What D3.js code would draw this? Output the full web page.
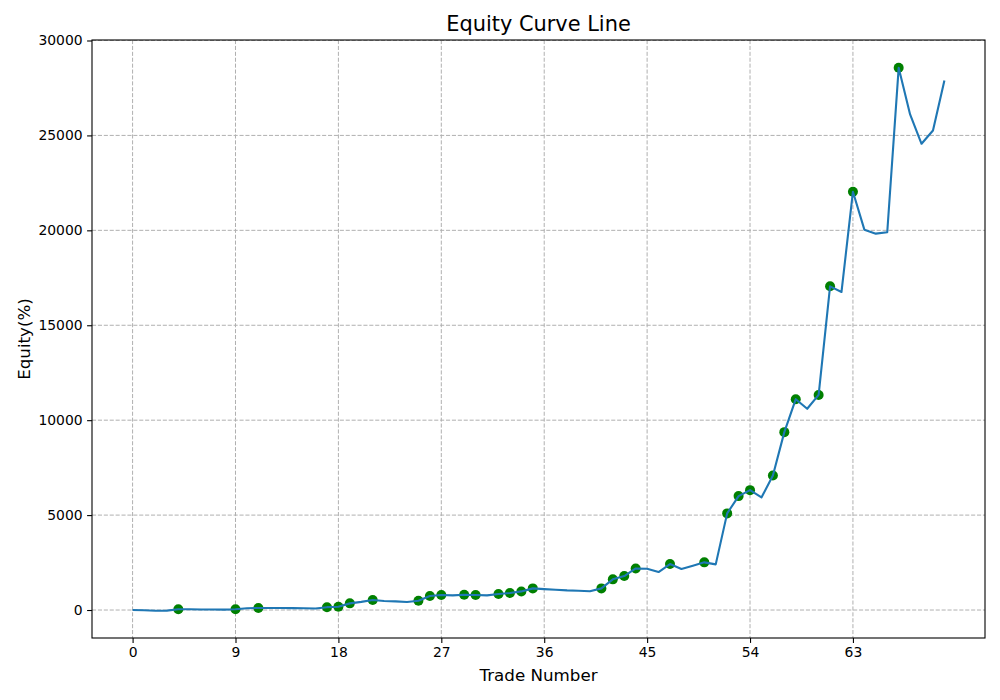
<!DOCTYPE html>
<html>
<head>
<meta charset="utf-8">
<script src="https://cdn.jsdelivr.net/npm/d3@7"></script>
<style>
  html, body { margin: 0; padding: 0; background: #ffffff; }
  svg { display: block; font-family: "DejaVu Sans", sans-serif; }
</style>
</head>
<body>
<svg id="chart" width="1000" height="700"></svg>
<script>
// ---- data ----
const tradeNumbers = d3.range(0, 72);
const equity = [
  0, -10, -40, -30, 40, 40, 30, 25, 20, 40,
  90, 110, 110, 105, 100, 95, 80, 150, 170, 350,
  430, 525, 475, 455, 420, 490, 735, 790, 770, 805,
  790, 770, 840, 895, 980, 1140, 1100, 1070, 1035, 1015,
  985, 1140, 1615, 1790, 2190, 2175, 2000, 2420, 2160, 2330,
  2510, 2405, 5090, 6000, 6315, 5930, 7090, 9370, 11105, 10600,
  11330, 17050, 16755, 22035, 20035, 19825, 19900, 28560, 26105, 24560,
  25260, 27895
];
const markedTrades = [4, 9, 11, 17, 18, 19, 21, 25, 26, 27, 29, 30, 32, 33, 34, 35,
  41, 42, 43, 44, 47, 50, 52, 53, 54, 56, 57, 58, 60, 61, 63, 67];
const xTicks = [0, 9, 18, 27, 36, 45, 54, 63];
const yTicks = [0, 5000, 10000, 15000, 20000, 25000, 30000];
const titleText = "Equity Curve Line";
const xLabel = "Trade Number";
const yLabel = "Equity(%)";

// ---- layout ----
const svg = d3.select("#chart");
const mLeft = 92, mRight = 985, mTop = 40, mBottom = 638;

const x = d3.scaleLinear().domain([-3.55, 74.55]).range([mLeft, mRight]);
const y = d3.scaleLinear().domain([-1474, 30026]).range([mBottom, mTop]);

// grid
const grid = svg.append("g");
grid.selectAll("line.gx").data(xTicks).enter().append("line")
  .attr("x1", d => x(d)).attr("x2", d => x(d))
  .attr("y1", mTop).attr("y2", mBottom)
  .attr("stroke", "#b0b0b0").attr("stroke-width", 1)
  .attr("stroke-dasharray", "4.1,1.8");
grid.selectAll("line.gy").data(yTicks).enter().append("line")
  .attr("x1", mLeft).attr("x2", mRight)
  .attr("y1", d => y(d)).attr("y2", d => y(d))
  .attr("stroke", "#b0b0b0").attr("stroke-width", 1)
  .attr("stroke-dasharray", "4.1,1.8");

// markers (under line)
const pts = markedTrades.map(i => [tradeNumbers[i], equity[i]]);
svg.append("g").selectAll("circle").data(pts).enter().append("circle")
  .attr("cx", d => x(d[0])).attr("cy", d => y(d[1]))
  .attr("r", 5).attr("fill", "#008000");

// line
const line = d3.line().x((d, i) => x(tradeNumbers[i])).y(d => y(d));
svg.append("path").datum(equity)
  .attr("d", line).attr("fill", "none")
  .attr("stroke", "#1f77b4").attr("stroke-width", 2.1)
  .attr("stroke-linejoin", "round").attr("stroke-linecap", "butt");

// axes
const xAxis = d3.axisBottom(x).tickValues(xTicks).tickSize(4.9).tickPadding(4.5);
const yAxis = d3.axisLeft(y).tickValues(yTicks).tickSize(4.9).tickPadding(4.5)
  .tickFormat(d3.format("d"));
const gx = svg.append("g").attr("transform", `translate(0,${mBottom})`).call(xAxis);
const gy = svg.append("g").attr("transform", `translate(${mLeft},0)`).call(yAxis);
[gx, gy].forEach(g => {
  g.select(".domain").remove();
  g.selectAll(".tick line").attr("stroke", "#000").attr("stroke-width", 1.1);
  g.selectAll(".tick text").attr("fill", "#000")
    .style("font-family", "DejaVu Sans").style("font-size", "13.9px");
});

// frame
svg.append("rect").attr("x", mLeft).attr("y", mTop)
  .attr("width", mRight - mLeft).attr("height", mBottom - mTop)
  .attr("fill", "none").attr("stroke", "#000").attr("stroke-width", 1.1);

// title and labels
svg.append("text").attr("x", (mLeft + mRight) / 2).attr("y", 31)
  .attr("text-anchor", "middle").style("font-size", "20.9px").attr("fill", "#000")
  .text(titleText);
svg.append("text").attr("x", (mLeft + mRight) / 2).attr("y", 681)
  .attr("text-anchor", "middle").style("font-size", "16.7px").attr("fill", "#000")
  .text(xLabel);
svg.append("text")
  .attr("transform", `translate(30,${(mTop + mBottom) / 2}) rotate(-90)`)
  .attr("text-anchor", "middle").style("font-size", "16.7px").attr("fill", "#000")
  .text(yLabel);
</script>
</body>
</html>
